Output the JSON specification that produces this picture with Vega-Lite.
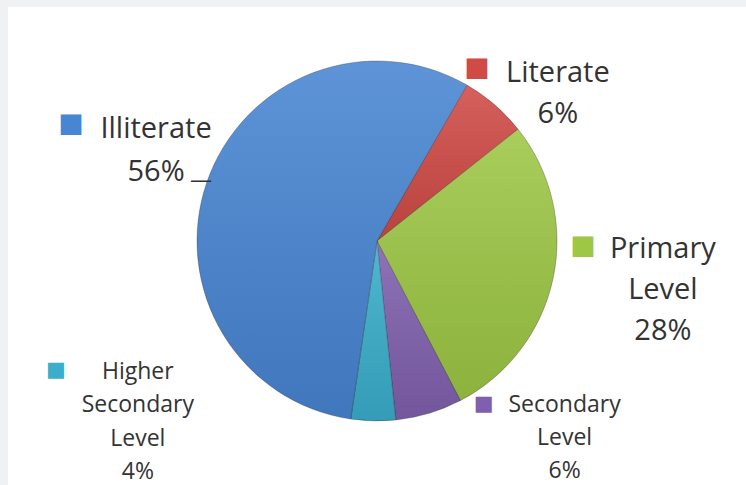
{
  "$schema": "https://vega.github.io/schema/vega-lite/v6.json",
  "autosize": {"type": "none"},
  "padding": {"left": 8, "top": 7, "right": 0, "bottom": 0},
  "width": 738,
  "height": 478,
  "background": "#eff1f3",
  "view": {"fill": "#ffffff", "stroke": null},
  "config": {"text": {"font": "Open Sans"}},
  "data": {"values": [
    {"category": "Literate", "value": 6},
    {"category": "Primary Level", "value": 28},
    {"category": "Secondary Level", "value": 6},
    {"category": "Higher Secondary Level", "value": 4},
    {"category": "Illiterate", "value": 56}
  ]},
  "transform": [
    {"window": [{"op": "row_number", "as": "idx"}]},
    {"stack": "value", "groupby": [], "sort": [{"field": "idx"}], "as": ["start", "end"]},
    {"calculate": "(datum.start + datum.end) / 2", "as": "mid"},
    {"calculate": "datum.category + ' ' + datum.value + '%'", "as": "lbl"}
  ],
  "encoding": {
    "color": {"field": "category", "type": "nominal", "legend": null,
      "scale": {"domain": ["Literate", "Primary Level", "Secondary Level", "Higher Secondary Level", "Illiterate"],
                "range": ["#d04a46", "#9dc745", "#8060ae", "#3aaecb", "#4885d2"]}}
  },
  "layer": [
    {
      "mark": {"type": "arc", "radius": 180, "yOffset": -5, "stroke": "#000000", "strokeOpacity": 0.25, "strokeWidth": 1},
      "encoding": {
        "theta": {"field": "start", "type": "quantitative", "stack": null, "scale": {"domain": [0, 100], "range": [0.5236, 6.8068]}},
        "theta2": {"field": "end"}
      }
    },
    {
      "mark": {"type": "arc", "radius": 180, "yOffset": -5, "strokeWidth": 0},
      "encoding": {
        "theta": {"field": "start", "type": "quantitative", "stack": null},
        "theta2": {"field": "end"},
        "fill": {"value": {"gradient": "linear", "x1": 0, "y1": 0, "x2": 0, "y2": 1, "stops": [
          {"offset": 0, "color": "rgba(255,255,255,0.12)"},
          {"offset": 1, "color": "rgba(0,0,0,0.10)"}
        ]}}
      }
    },
    {
      "transform": [{"filter": "datum.category === 'Literate'"}],
      "mark": {"type": "text", "radius": 234, "dx": 28, "dy": 4, "fontSize": 29, "lineBreak": " ", "lineHeight": 41, "align": "center", "baseline": "middle"},
      "encoding": {"theta": {"field": "mid", "type": "quantitative", "stack": null}, "text": {"field": "lbl"}, "color": {"value": "#333333"}}
    },
    {
      "transform": [{"filter": "datum.category === 'Primary Level'"}],
      "mark": {"type": "text", "radius": 280, "dx": 12, "dy": -55, "fontSize": 29, "lineBreak": " ", "lineHeight": 41, "align": "center", "baseline": "middle"},
      "encoding": {"theta": {"field": "mid", "type": "quantitative", "stack": null}, "text": {"field": "lbl"}, "color": {"value": "#333333"}}
    },
    {
      "transform": [{"filter": "datum.category === 'Secondary Level'"}],
      "mark": {"type": "text", "radius": 220, "dx": 124, "dy": -52, "fontSize": 23, "lineBreak": " ", "lineHeight": 33, "align": "center", "baseline": "middle"},
      "encoding": {"theta": {"field": "mid", "type": "quantitative", "stack": null}, "text": {"field": "lbl"}, "color": {"value": "#333333"}}
    },
    {
      "transform": [{"filter": "datum.category === 'Higher Secondary Level'"}],
      "mark": {"type": "text", "radius": 200, "dx": -235, "dy": -74, "fontSize": 23, "lineBreak": " ", "lineHeight": 33.5, "align": "center", "baseline": "middle"},
      "encoding": {"theta": {"field": "mid", "type": "quantitative", "stack": null}, "text": {"field": "lbl"}, "color": {"value": "#333333"}}
    },
    {
      "transform": [{"filter": "datum.category === 'Illiterate'"}],
      "mark": {"type": "text", "radius": 235, "dx": 1, "dy": -40, "fontSize": 29, "lineBreak": " ", "lineHeight": 43, "align": "center", "baseline": "middle"},
      "encoding": {"theta": {"field": "mid", "type": "quantitative", "stack": null}, "text": {"field": "lbl"}, "color": {"value": "#333333"}}
    },
    {
      "transform": [{"filter": "datum.category === 'Illiterate'"}],
      "mark": {"type": "text", "radius": 235, "dx": 46, "dy": 11, "fontSize": 22, "text": "—", "align": "center", "baseline": "middle"},
      "encoding": {"theta": {"field": "mid", "type": "quantitative", "stack": null}, "color": {"value": "#333333"}}
    },
    {
      "transform": [{"filter": "datum.category === 'Literate'"}],
      "mark": {"type": "text", "radius": 234, "dx": -53, "dy": -1, "fontSize": 27, "font": "DejaVu Sans", "text": "■", "align": "center", "baseline": "middle"},
      "encoding": {"theta": {"field": "mid", "type": "quantitative", "stack": null}}
    },
    {
      "transform": [{"filter": "datum.category === 'Primary Level'"}],
      "mark": {"type": "text", "radius": 280, "dx": -68, "dy": -58, "fontSize": 27, "font": "DejaVu Sans", "text": "■", "align": "center", "baseline": "middle"},
      "encoding": {"theta": {"field": "mid", "type": "quantitative", "stack": null}}
    },
    {
      "transform": [{"filter": "datum.category === 'Secondary Level'"}],
      "mark": {"type": "text", "radius": 220, "dx": 43, "dy": -53, "fontSize": 21, "font": "DejaVu Sans", "text": "■", "align": "center", "baseline": "middle"},
      "encoding": {"theta": {"field": "mid", "type": "quantitative", "stack": null}}
    },
    {
      "transform": [{"filter": "datum.category === 'Higher Secondary Level'"}],
      "mark": {"type": "text", "radius": 200, "dx": -317, "dy": -76, "fontSize": 21, "font": "DejaVu Sans", "text": "■", "align": "center", "baseline": "middle"},
      "encoding": {"theta": {"field": "mid", "type": "quantitative", "stack": null}}
    },
    {
      "transform": [{"filter": "datum.category === 'Illiterate'"}],
      "mark": {"type": "text", "radius": 235, "dx": -84, "dy": -45, "fontSize": 27, "font": "DejaVu Sans", "text": "■", "align": "center", "baseline": "middle"},
      "encoding": {"theta": {"field": "mid", "type": "quantitative", "stack": null}}
    }
  ]
}
